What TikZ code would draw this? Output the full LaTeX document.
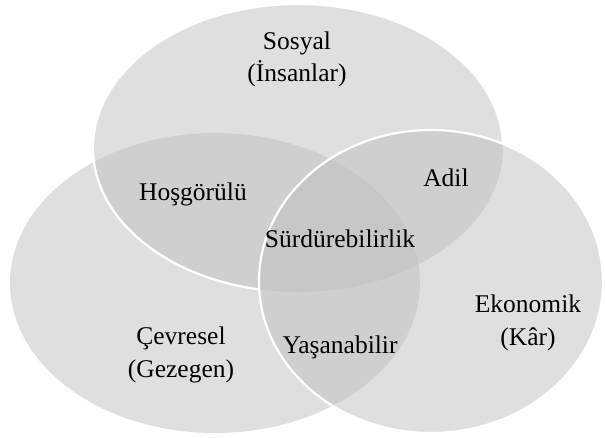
\documentclass[tikz,border=0pt]{standalone}
\usepackage{fontspec}
\setmainfont{Liberation Serif}
\begin{document}
\begin{tikzpicture}[x=1pt,y=-1pt,
  region/.style={fill={rgb,255:red,191;green,191;blue,191}, fill opacity=0.5},
  rim/.style={draw=white, line width=2.2pt},
  label/.style={font=\fontsize{25.5}{32.5}\selectfont, text=black, align=center, inner sep=0pt}]
  \useasboundingbox (0,0) rectangle (605,437);
  % the three circles of sustainability
  \path[region] (215,283) ellipse [x radius=205pt, y radius=150pt];
  \path[region] (298,148) ellipse [x radius=205pt, y radius=144pt];
  \path[region] (431,281.5) ellipse [x radius=172pt, y radius=151.5pt];
  % white rims: the social circle's rim stops where the economic circle covers it
  \begin{scope}[even odd rule]
    \clip (0,0) rectangle (605,437)
      (431,281.5) ellipse [x radius=172pt, y radius=151.5pt];
    \draw[rim] (298,148) ellipse [x radius=205pt, y radius=144pt];
  \end{scope}
  \draw[rim] (431,281.5) ellipse [x radius=172pt, y radius=151.5pt];
  % labels
  \node[label] (sosyal) at (297,59.5) {Sosyal\\(İnsanlar)};
  \node[label] (cevre) at (181,355) {Çevresel\\(Gezegen)};
  \node[label] (ekonomi) at (528,323) {Ekonomik\\(Kâr)};
  \node[label] (hosgoru) at (193,194) {Hoşgörülü};
  \node[label] (adil) at (446,177.5) {Adil};
  \node[label] (surdur) at (340,239) {Sürdürebilirlik};
  \node[label] (yasan) at (340,347) {Yaşanabilir};
\end{tikzpicture}
\end{document}
